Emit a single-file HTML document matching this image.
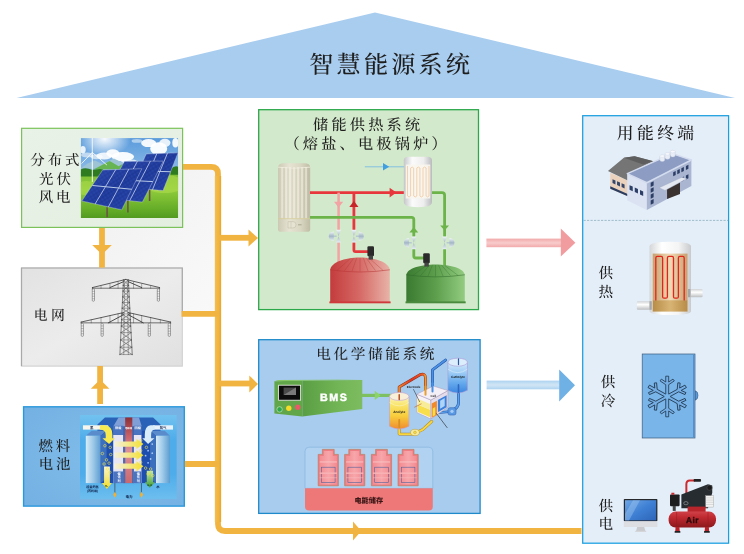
<!DOCTYPE html>
<html lang="zh-CN"><head><meta charset="utf-8"><title>智慧能源系统</title>
<style>
html,body{margin:0;padding:0;background:#fff;}
body{width:744px;height:554px;overflow:hidden;}
svg{display:block;will-change:transform;opacity:0.9999}
text{text-rendering:geometricPrecision}
.k{font-family:'Liberation Serif','Noto Serif CJK SC',serif;font-weight:500;fill:#1e1e1e}
.s{font-family:'Liberation Sans','Noto Sans CJK SC',sans-serif}
</style></head><body>
<svg width="744" height="554" viewBox="0 0 744 554">
<defs>
<linearGradient id="gGrey" x1="0" y1="0" x2="1" y2="1"><stop offset="0" stop-color="#f1f1f1"/><stop offset="1" stop-color="#f9f9f9"/></linearGradient>
<linearGradient id="gPV" x1="0" y1="0" x2="1" y2="1"><stop offset="0" stop-color="#e9f2e7"/><stop offset="1" stop-color="#e3eee0"/></linearGradient>
<linearGradient id="gGrid" x1="0" y1="0" x2="1" y2="1"><stop offset="0" stop-color="#e2e2e2"/><stop offset="0.5" stop-color="#ececec"/><stop offset="1" stop-color="#e0e0e0"/></linearGradient>
<radialGradient id="gFuel" cx="0.55" cy="0.5" r="0.75"><stop offset="0" stop-color="#80bdea"/><stop offset="1" stop-color="#74b1e3"/></radialGradient>
<linearGradient id="gSky" x1="0" y1="0" x2="0" y2="1"><stop offset="0" stop-color="#5a9bdc"/><stop offset="1" stop-color="#d4e9f6"/></linearGradient>
<linearGradient id="gGrass" x1="0" y1="0" x2="0" y2="1"><stop offset="0" stop-color="#8ccb3a"/><stop offset="1" stop-color="#4f9a1e"/></linearGradient>
<linearGradient id="gPanel" x1="0" y1="0" x2="1" y2="1"><stop offset="0" stop-color="#3656b8"/><stop offset="0.5" stop-color="#1d3a98"/><stop offset="1" stop-color="#2a4cb0"/></linearGradient>
<linearGradient id="gBeige" x1="0" y1="0" x2="1" y2="0"><stop offset="0" stop-color="#ccc9b3"/><stop offset="0.35" stop-color="#e6e3d3"/><stop offset="0.7" stop-color="#d9d6c2"/><stop offset="1" stop-color="#c0bda6"/></linearGradient>
<linearGradient id="gSteel" x1="0" y1="0" x2="1" y2="0"><stop offset="0" stop-color="#c4c6c8"/><stop offset="0.3" stop-color="#fbfbfb"/><stop offset="0.7" stop-color="#eeeeee"/><stop offset="1" stop-color="#b9bbbd"/></linearGradient>
<linearGradient id="gRedTank" x1="0" y1="0" x2="1" y2="0"><stop offset="0" stop-color="#c33c3c"/><stop offset="0.5" stop-color="#d66a66"/><stop offset="1" stop-color="#e8b3a8"/></linearGradient>
<linearGradient id="gGreenTank" x1="0" y1="0" x2="1" y2="0"><stop offset="0" stop-color="#3a7a32"/><stop offset="0.5" stop-color="#5c9e4c"/><stop offset="1" stop-color="#93cc80"/></linearGradient>
<linearGradient id="gBMSside" x1="0" y1="0" x2="1" y2="0"><stop offset="0" stop-color="#5a9e44"/><stop offset="0.6" stop-color="#72b556"/><stop offset="1" stop-color="#7dbc60"/></linearGradient>
<linearGradient id="gRedArrow" x1="0" y1="0" x2="0" y2="1"><stop offset="0" stop-color="#f2a9aa"/><stop offset="0.5" stop-color="#f8cccc"/><stop offset="1" stop-color="#f2a9aa"/></linearGradient>
<linearGradient id="gBlueArrow" x1="0" y1="0" x2="0" y2="1"><stop offset="0" stop-color="#add2ef"/><stop offset="0.5" stop-color="#d2e6f6"/><stop offset="1" stop-color="#add2ef"/></linearGradient>
<linearGradient id="gAno" x1="0" y1="0" x2="0" y2="1"><stop offset="0" stop-color="#fbf3c4"/><stop offset="0.25" stop-color="#f9e66c"/><stop offset="0.6" stop-color="#f8cc3c"/><stop offset="1" stop-color="#ef8c30"/></linearGradient>
<linearGradient id="gCat" x1="0" y1="0" x2="0" y2="1"><stop offset="0" stop-color="#d4eafb"/><stop offset="0.3" stop-color="#a4d0f6"/><stop offset="0.65" stop-color="#68acee"/><stop offset="1" stop-color="#3c86e0"/></linearGradient>
<linearGradient id="gPipeR" x1="0" y1="1" x2="1" y2="0"><stop offset="0" stop-color="#f0a030"/><stop offset="0.5" stop-color="#e84828"/><stop offset="1" stop-color="#d83030"/></linearGradient>
<linearGradient id="gTan" x1="0" y1="0" x2="1" y2="0"><stop offset="0" stop-color="#c9a070"/><stop offset="0.5" stop-color="#f0dab6"/><stop offset="1" stop-color="#c9a070"/></linearGradient>
<linearGradient id="gGold" x1="0" y1="0" x2="1" y2="0"><stop offset="0" stop-color="#b88c48"/><stop offset="0.5" stop-color="#d8b474"/><stop offset="1" stop-color="#b88c48"/></linearGradient>
<linearGradient id="gHeaterShell" x1="0" y1="0" x2="1" y2="0"><stop offset="0" stop-color="#d4d6d8"/><stop offset="0.3" stop-color="#ffffff"/><stop offset="0.7" stop-color="#f4f4f4"/><stop offset="1" stop-color="#c8cacc"/></linearGradient>
<linearGradient id="gScreen" x1="0" y1="0" x2="1" y2="1"><stop offset="0" stop-color="#6ea6e6"/><stop offset="0.5" stop-color="#3f80d4"/><stop offset="1" stop-color="#2c64b8"/></linearGradient>
<linearGradient id="gRedCyl" x1="0" y1="0" x2="0" y2="1"><stop offset="0" stop-color="#cf4248"/><stop offset="0.35" stop-color="#c02a30"/><stop offset="1" stop-color="#8a181c"/></linearGradient>
<linearGradient id="gFuelBg" x1="0" y1="0" x2="0" y2="1"><stop offset="0" stop-color="#72c2ef"/><stop offset="0.3" stop-color="#4eacea"/><stop offset="0.7" stop-color="#4eacea"/><stop offset="1" stop-color="#6cbeee"/></linearGradient>
<linearGradient id="gPlate" x1="0" y1="0" x2="1" y2="0"><stop offset="0" stop-color="#d8ecf8"/><stop offset="0.5" stop-color="#9cc8e8"/><stop offset="1" stop-color="#5c9cd0"/></linearGradient>
<linearGradient id="gYArrow" x1="0" y1="0" x2="1" y2="0"><stop offset="0" stop-color="#f4f0e0"/><stop offset="1" stop-color="#f4e030"/></linearGradient>
<linearGradient id="gYDown" x1="0" y1="0" x2="0" y2="1"><stop offset="0" stop-color="#faf6d0"/><stop offset="1" stop-color="#f0dc28"/></linearGradient>
<linearGradient id="gGDown" x1="0" y1="0" x2="0" y2="1"><stop offset="0" stop-color="#c8e8a0"/><stop offset="1" stop-color="#3c9c38"/></linearGradient>
<linearGradient id="gBatt" x1="0" y1="0" x2="1" y2="0"><stop offset="0" stop-color="#f28c92"/><stop offset="0.5" stop-color="#f7a6aa"/><stop offset="1" stop-color="#f28c92"/></linearGradient>
<clipPath id="cpPV"><rect x="0" y="0" width="97.5" height="80"/></clipPath>
<linearGradient id="gHeaterShellV" x1="0" y1="0" x2="0" y2="1"><stop offset="0" stop-color="#d0d2d4"/><stop offset="0.4" stop-color="#ffffff"/><stop offset="1" stop-color="#bcbec0"/></linearGradient>
</defs>

<polygon points="16.5,97.9 375,12.4 735,97.9" fill="#a9cdef"/>
<text class="k" x="391.2" y="73" font-size="24.2" letter-spacing="3.1" text-anchor="middle">智慧能源系统</text>
<rect x="102" y="167" width="115" height="147.4" fill="url(#gGrey)"/>
<rect x="21.6" y="128.3" width="161" height="99.1" fill="url(#gPV)" stroke="#7cc25a" stroke-width="1.2"/>
<text class="k" font-size="14.4" letter-spacing="3" text-anchor="middle"><tspan x="56.4" y="165.4">分布式</tspan><tspan x="56.4" y="183.8">光伏</tspan><tspan x="56.1" y="202">风电</tspan></text>
<g transform="translate(80.7,138.1)" clip-path="url(#cpPV)">
<radialGradient id="gSun" cx="0.5" cy="0.5" r="0.5"><stop offset="0" stop-color="#ffffff" stop-opacity="0.95"/><stop offset="0.5" stop-color="#ffffff" stop-opacity="0.5"/><stop offset="1" stop-color="#ffffff" stop-opacity="0"/></radialGradient>
<linearGradient id="gGrass2" x1="0" y1="0" x2="0" y2="1"><stop offset="0" stop-color="#7cbc34"/><stop offset="0.3" stop-color="#90cc3c"/><stop offset="0.65" stop-color="#62aa26"/><stop offset="1" stop-color="#347e16"/></linearGradient>
<rect width="97.5" height="80" fill="url(#gSky)"/>
<ellipse cx="24" cy="1" rx="26" ry="17" fill="url(#gSun)"/>
<ellipse cx="42.2" cy="18.6" rx="11.2" ry="4.7" fill="#fff" opacity="0.95"/>
<ellipse cx="32.1" cy="15.2" rx="6.5" ry="4.0" fill="#fff" opacity="0.92"/>
<ellipse cx="23.6" cy="17.9" rx="7.8" ry="3.4" fill="#fff" opacity="0.85"/>
<ellipse cx="15.8" cy="18.6" rx="6.2" ry="2.5" fill="#fff" opacity="0.60"/>
<ellipse cx="78.0" cy="10.6" rx="8.5" ry="6.5" fill="#fff" opacity="0.96"/>
<ellipse cx="67.9" cy="5.0" rx="7.5" ry="4.0" fill="#fff" opacity="0.92"/>
<ellipse cx="84.2" cy="4.7" rx="5.6" ry="4.0" fill="#fff" opacity="0.85"/>
<ellipse cx="94.7" cy="4.7" rx="3.1" ry="4.7" fill="#fff" opacity="0.92"/>
<ellipse cx="2.2" cy="11.6" rx="2.8" ry="3.7" fill="#fff" opacity="0.85"/>
<ellipse cx="6.5" cy="16.8" rx="6.2" ry="2.5" fill="#fff" opacity="0.55"/>
<ellipse cx="56.2" cy="2.8" rx="5.3" ry="1.9" fill="#fff" opacity="0.50"/>
<ellipse cx="48.4" cy="23.3" rx="7.8" ry="2.2" fill="#fff" opacity="0.70"/>
<polygon points="0.00,30.28 6.52,25.62 14.29,22.52 22.05,26.09 33.23,20.50 43.79,25.62 54.66,30.75" fill="#9cc4d4"/>
<polygon points="12.73,31.37 29.04,22.98 37.89,28.26 43.79,24.84 54.66,31.37" fill="#66b452"/>
<rect x="0" y="33.5" width="97.5" height="60" fill="url(#gGrass2)"/>
<ellipse cx="84" cy="46" rx="20" ry="9" fill="#b4e050" opacity="0.5"/>
<ellipse cx="6" cy="50" rx="12" ry="7" fill="#b4e050" opacity="0.45"/>
<path d="M0,31.4 Q4,29.2 8,30.7 T17,31.1 T24,32.9 V38.5 H0Z" fill="#2f7c20"/>
<path d="M89.8,31.4 Q93.8,26.7 97.5,28.6 V36.6 H89.8Z" fill="#2f7c20"/>
<line x1="11.6" y1="14.3" x2="11.6" y2="43.8" stroke="#fff" stroke-width="1" opacity="0.95"/>
<line x1="11.6" y1="14.3" x2="11.6" y2="0.3" stroke="#fff" stroke-width="0.9" stroke-linecap="round" opacity="0.9"/>
<line x1="11.6" y1="14.3" x2="1.1" y2="25.2" stroke="#fff" stroke-width="0.9" stroke-linecap="round" opacity="0.9"/>
<line x1="11.6" y1="14.3" x2="25.9" y2="26.7" stroke="#fff" stroke-width="0.9" stroke-linecap="round" opacity="0.9"/>
<line x1="68.9" y1="49.7" x2="68.9" y2="62.9" stroke="#6a5648" stroke-width="1.6"/>
<line x1="47.2" y1="60.6" x2="47.2" y2="74.5" stroke="#6a5648" stroke-width="1.6"/>
<line x1="26.4" y1="69.1" x2="26.4" y2="79.2" stroke="#6a5648" stroke-width="1.6"/>
<pattern id="pCell" width="1.3" height="1.3" patternUnits="userSpaceOnUse" patternTransform="rotate(12)"><rect width="1.3" height="1.3" fill="#243ea2"/><rect width="0.45" height="1.3" fill="#3a58bc"/><rect width="1.3" height="0.4" fill="#1a2e88"/></pattern>
<polygon points="65.53,15.84 97.36,14.75 82.30,52.48 50.78,49.69" fill="url(#pCell)"/>
<polygon points="65.53,15.84 97.36,14.75 82.30,52.48 50.78,49.69" fill="url(#gPanel)" opacity="0.55" stroke="#d4def2" stroke-width="0.7"/>
<line x1="76.14" y1="15.48" x2="61.28" y2="50.62" stroke="#dfe6f6" stroke-width="0.7"/>
<line x1="86.75" y1="15.11" x2="71.79" y2="51.55" stroke="#dfe6f6" stroke-width="0.7"/>
<line x1="58.15" y1="32.76" x2="89.83" y2="33.62" stroke="#b8cae8" stroke-width="1"/>
<polygon points="43.79,23.29 82.61,22.98 61.65,63.98 23.60,59.78" fill="url(#pCell)"/>
<polygon points="43.79,23.29 82.61,22.98 61.65,63.98 23.60,59.78" fill="url(#gPanel)" opacity="0.55" stroke="#d4def2" stroke-width="0.7"/>
<line x1="56.73" y1="23.19" x2="36.28" y2="61.18" stroke="#dfe6f6" stroke-width="0.7"/>
<line x1="69.67" y1="23.08" x2="48.96" y2="62.58" stroke="#dfe6f6" stroke-width="0.7"/>
<line x1="33.70" y1="41.54" x2="72.13" y2="43.48" stroke="#b8cae8" stroke-width="1"/>
<polygon points="22.05,31.83 61.18,30.59 40.99,71.74 1.09,62.89" fill="url(#pCell)"/>
<polygon points="22.05,31.83 61.18,30.59 40.99,71.74 1.09,62.89" fill="url(#gPanel)" opacity="0.55" stroke="#d4def2" stroke-width="0.7"/>
<line x1="35.09" y1="31.42" x2="14.39" y2="65.84" stroke="#dfe6f6" stroke-width="0.7"/>
<line x1="48.14" y1="31.00" x2="27.69" y2="68.79" stroke="#dfe6f6" stroke-width="0.7"/>
<line x1="11.57" y1="47.36" x2="51.09" y2="51.16" stroke="#b8cae8" stroke-width="1"/>
</g>
<rect x="21.5" y="268" width="160.8" height="98.1" fill="url(#gGrid)" stroke="#d2d2d2" stroke-width="1.2"/><path d="M21.5,366.1 V268 H182.3 V311.5" fill="none" stroke="#a9a9a9" stroke-width="1.2"/>
<text class="k" font-size="13.8" letter-spacing="3.4" x="33.7" y="320.2">电网</text>
<g fill="none" stroke="#3a3a3a" stroke-width="0.6" stroke-linecap="round">
<line x1="123.46" y1="279.76" x2="119.88" y2="354.55"/>
<line x1="128.33" y1="279.76" x2="132.24" y2="354.55"/>
<line x1="124.43" y1="279.76" x2="123.78" y2="354.55" stroke-width="0.4"/>
<line x1="127.36" y1="279.76" x2="128.33" y2="354.55" stroke-width="0.4"/>
<line x1="123.46" y1="279.76" x2="128.63" y2="285.45" stroke-width="0.45"/>
<line x1="128.33" y1="279.76" x2="123.18" y2="285.45" stroke-width="0.45"/>
<line x1="123.18" y1="285.45" x2="128.63" y2="285.45" stroke-width="0.4"/>
<line x1="123.18" y1="285.45" x2="128.93" y2="291.14" stroke-width="0.45"/>
<line x1="128.63" y1="285.45" x2="122.91" y2="291.14" stroke-width="0.45"/>
<line x1="122.91" y1="291.14" x2="128.93" y2="291.14" stroke-width="0.4"/>
<line x1="122.91" y1="291.14" x2="129.22" y2="296.83" stroke-width="0.45"/>
<line x1="128.93" y1="291.14" x2="122.64" y2="296.83" stroke-width="0.45"/>
<line x1="122.64" y1="296.83" x2="129.22" y2="296.83" stroke-width="0.4"/>
<line x1="122.64" y1="296.83" x2="129.52" y2="302.52" stroke-width="0.45"/>
<line x1="129.22" y1="296.83" x2="122.37" y2="302.52" stroke-width="0.45"/>
<line x1="122.37" y1="302.52" x2="129.52" y2="302.52" stroke-width="0.4"/>
<line x1="122.37" y1="302.52" x2="129.82" y2="308.21" stroke-width="0.45"/>
<line x1="129.52" y1="302.52" x2="122.09" y2="308.21" stroke-width="0.45"/>
<line x1="122.09" y1="308.21" x2="129.82" y2="308.21" stroke-width="0.4"/>
<line x1="122.09" y1="308.21" x2="130.11" y2="313.90" stroke-width="0.45"/>
<line x1="129.82" y1="308.21" x2="121.82" y2="313.90" stroke-width="0.45"/>
<line x1="121.82" y1="313.90" x2="130.11" y2="313.90" stroke-width="0.4"/>
<line x1="121.82" y1="313.90" x2="130.41" y2="319.59" stroke-width="0.45"/>
<line x1="130.11" y1="313.90" x2="121.55" y2="319.59" stroke-width="0.45"/>
<line x1="121.55" y1="319.59" x2="130.41" y2="319.59" stroke-width="0.4"/>
<line x1="121.55" y1="319.59" x2="130.75" y2="326.10" stroke-width="0.45"/>
<line x1="130.41" y1="319.59" x2="121.24" y2="326.10" stroke-width="0.45"/>
<line x1="121.24" y1="326.10" x2="130.75" y2="326.10" stroke-width="0.4"/>
<line x1="121.24" y1="326.10" x2="131.09" y2="332.60" stroke-width="0.45"/>
<line x1="130.75" y1="326.10" x2="120.93" y2="332.60" stroke-width="0.45"/>
<line x1="120.93" y1="332.60" x2="131.09" y2="332.60" stroke-width="0.4"/>
<line x1="120.93" y1="332.60" x2="131.47" y2="339.92" stroke-width="0.45"/>
<line x1="131.09" y1="332.60" x2="120.58" y2="339.92" stroke-width="0.45"/>
<line x1="120.58" y1="339.92" x2="131.47" y2="339.92" stroke-width="0.4"/>
<line x1="120.58" y1="339.92" x2="131.85" y2="347.24" stroke-width="0.45"/>
<line x1="131.47" y1="339.92" x2="120.23" y2="347.24" stroke-width="0.45"/>
<line x1="120.23" y1="347.24" x2="131.85" y2="347.24" stroke-width="0.4"/>
<line x1="120.23" y1="347.24" x2="132.24" y2="354.55" stroke-width="0.45"/>
<line x1="131.85" y1="347.24" x2="119.88" y2="354.55" stroke-width="0.45"/>
<line x1="119.88" y1="354.55" x2="132.24" y2="354.55" stroke-width="0.4"/>
<line x1="92.40" y1="288.21" x2="159.55" y2="288.21" stroke-width="0.7"/>
<line x1="125.73" y1="279.43" x2="92.40" y2="287.56" stroke-width="0.8"/>
<line x1="125.73" y1="279.43" x2="159.55" y2="287.56" stroke-width="0.8"/>
<line x1="92.40" y1="287.56" x2="92.40" y2="289.19"/>
<line x1="159.55" y1="287.56" x2="159.55" y2="289.19"/>
<line x1="109.96" y1="287.56" x2="123.46" y2="281.71" stroke-width="0.9"/>
<line x1="141.67" y1="287.56" x2="128.33" y2="281.71" stroke-width="0.9"/>
<line x1="101.02" y1="286.26" x2="101.02" y2="288.21" stroke-width="0.4"/>
<line x1="109.96" y1="283.98" x2="109.96" y2="288.21" stroke-width="0.4"/>
<line x1="118.09" y1="282.03" x2="118.09" y2="288.21" stroke-width="0.4"/>
<line x1="150.61" y1="286.26" x2="150.61" y2="288.21" stroke-width="0.4"/>
<line x1="141.67" y1="283.98" x2="141.67" y2="288.21" stroke-width="0.4"/>
<line x1="133.54" y1="282.03" x2="133.54" y2="288.21" stroke-width="0.4"/>
<line x1="81.18" y1="322.85" x2="170.61" y2="322.85" stroke-width="0.7"/>
<line x1="123.46" y1="312.60" x2="81.18" y2="322.03" stroke-width="0.8"/>
<line x1="128.33" y1="312.60" x2="170.61" y2="322.03" stroke-width="0.8"/>
<line x1="81.18" y1="322.03" x2="81.18" y2="323.66"/>
<line x1="170.61" y1="322.03" x2="170.61" y2="323.66"/>
<line x1="108.33" y1="322.85" x2="123.46" y2="314.72" stroke-width="0.9"/>
<line x1="143.29" y1="322.85" x2="128.33" y2="314.72" stroke-width="0.9"/>
<line x1="91.26" y1="319.78" x2="91.26" y2="322.85" stroke-width="0.4"/>
<line x1="101.02" y1="317.61" x2="101.02" y2="322.85" stroke-width="0.4"/>
<line x1="109.96" y1="315.61" x2="109.96" y2="322.85" stroke-width="0.4"/>
<line x1="118.09" y1="313.80" x2="118.09" y2="322.85" stroke-width="0.4"/>
<line x1="160.37" y1="319.75" x2="160.37" y2="322.85" stroke-width="0.4"/>
<line x1="150.61" y1="317.57" x2="150.61" y2="322.85" stroke-width="0.4"/>
<line x1="141.67" y1="315.58" x2="141.67" y2="322.85" stroke-width="0.4"/>
<line x1="133.54" y1="313.76" x2="133.54" y2="322.85" stroke-width="0.4"/>
</g>
<g fill="#f4f4f4" stroke="#3a3a3a" stroke-width="0.45">
<rect x="92.27" y="288.86" width="2.2" height="12.36" rx="0.9"/>
<line x1="92.27" y1="291.33" x2="94.47" y2="291.33" stroke-width="0.3"/>
<line x1="92.27" y1="293.80" x2="94.47" y2="293.80" stroke-width="0.3"/>
<line x1="92.27" y1="296.28" x2="94.47" y2="296.28" stroke-width="0.3"/>
<line x1="92.27" y1="298.75" x2="94.47" y2="298.75" stroke-width="0.3"/>
<rect x="157.31" y="288.86" width="2.2" height="12.36" rx="0.9"/>
<line x1="157.31" y1="291.33" x2="159.51" y2="291.33" stroke-width="0.3"/>
<line x1="157.31" y1="293.80" x2="159.51" y2="293.80" stroke-width="0.3"/>
<line x1="157.31" y1="296.28" x2="159.51" y2="296.28" stroke-width="0.3"/>
<line x1="157.31" y1="298.75" x2="159.51" y2="298.75" stroke-width="0.3"/>
<rect x="81.22" y="323.33" width="2.2" height="13.01" rx="0.9"/>
<line x1="81.22" y1="325.93" x2="83.42" y2="325.93" stroke-width="0.3"/>
<line x1="81.22" y1="328.54" x2="83.42" y2="328.54" stroke-width="0.3"/>
<line x1="81.22" y1="331.14" x2="83.42" y2="331.14" stroke-width="0.3"/>
<line x1="81.22" y1="333.74" x2="83.42" y2="333.74" stroke-width="0.3"/>
<rect x="101.05" y="323.33" width="2.2" height="13.01" rx="0.9"/>
<line x1="101.05" y1="325.93" x2="103.25" y2="325.93" stroke-width="0.3"/>
<line x1="101.05" y1="328.54" x2="103.25" y2="328.54" stroke-width="0.3"/>
<line x1="101.05" y1="331.14" x2="103.25" y2="331.14" stroke-width="0.3"/>
<line x1="101.05" y1="333.74" x2="103.25" y2="333.74" stroke-width="0.3"/>
<rect x="148.21" y="323.33" width="2.2" height="13.01" rx="0.9"/>
<line x1="148.21" y1="325.93" x2="150.41" y2="325.93" stroke-width="0.3"/>
<line x1="148.21" y1="328.54" x2="150.41" y2="328.54" stroke-width="0.3"/>
<line x1="148.21" y1="331.14" x2="150.41" y2="331.14" stroke-width="0.3"/>
<line x1="148.21" y1="333.74" x2="150.41" y2="333.74" stroke-width="0.3"/>
<rect x="168.21" y="323.33" width="2.2" height="13.01" rx="0.9"/>
<line x1="168.21" y1="325.93" x2="170.41" y2="325.93" stroke-width="0.3"/>
<line x1="168.21" y1="328.54" x2="170.41" y2="328.54" stroke-width="0.3"/>
<line x1="168.21" y1="331.14" x2="170.41" y2="331.14" stroke-width="0.3"/>
<line x1="168.21" y1="333.74" x2="170.41" y2="333.74" stroke-width="0.3"/>
</g>
<rect x="23.6" y="406.8" width="160.7" height="99.3" fill="url(#gFuel)" stroke="#2a98dc" stroke-width="1.4"/>
<text class="k" font-size="14.4" letter-spacing="2.9"><tspan x="38.4" y="450.9">燃料</tspan><tspan x="38.8" y="469">电池</tspan></text>
<rect x="79.98" y="414.98" width="96.68" height="83.89" fill="url(#gFuelBg)"/>
<polygon points="97.43,424.62 104.90,417.48 153.07,417.48 160.55,424.62 160.55,431.59 97.43,431.59" fill="#2a62b8"/>
<rect x="99.92" y="430.76" width="56.48" height="52.33" fill="#1f4fae"/>
<polygon points="85.80,435.75 91.61,430.76 106.56,430.76 100.75,435.75" fill="#5a8ccc"/>
<rect x="85.80" y="435.75" width="14.95" height="47.34" fill="url(#gPlate)"/>
<polygon points="100.75,435.75 106.56,430.76 106.56,478.11 100.75,483.09" fill="#3c70bc"/>
<polygon points="155.90,435.75 150.08,430.76 164.70,430.76 170.02,435.75" fill="#5a8ccc"/>
<rect x="155.90" y="435.75" width="14.12" height="47.34" fill="url(#gPlate)"/>
<polygon points="155.90,435.75 150.08,430.76 150.08,478.11 155.90,483.09" fill="#3c70bc"/>
<polygon points="113.21,426.61 118.52,417.48 138.95,417.48 141.78,426.61" fill="#7f9fd6"/>
<polygon points="113.21,434.92 113.21,426.61 141.78,426.61 141.78,434.92" fill="#3a66b4"/>
<rect x="113.21" y="434.92" width="9.97" height="48.17" fill="#e8e6f2"/>
<rect x="123.17" y="434.92" width="1.66" height="48.17" fill="#5870b0"/>
<linearGradient id="gMem" x1="0" y1="0" x2="0" y2="1"><stop offset="0" stop-color="#8c3038"/><stop offset="0.3" stop-color="#c8646c"/><stop offset="0.5" stop-color="#dc9298"/><stop offset="1" stop-color="#c86870"/></linearGradient>
<rect x="125.17" y="417.48" width="7.14" height="65.61" fill="url(#gMem)"/>
<rect x="132.31" y="434.92" width="1.66" height="48.17" fill="#5870b0"/>
<rect x="133.97" y="434.92" width="7.48" height="48.17" fill="#e8e6f2"/>
<rect x="113.21" y="471.46" width="9.97" height="11.63" fill="#4a74c0"/>
<rect x="133.97" y="471.46" width="7.48" height="11.63" fill="#4a74c0"/>
<rect x="113.21" y="425.78" width="9.97" height="9.14" fill="#4a74c0"/>
<rect x="133.97" y="425.78" width="7.48" height="9.14" fill="#4a74c0"/>
<rect x="82.97" y="425.28" width="25.25" height="4.32" fill="#f6f6ee"/>
<rect x="153.07" y="425.28" width="19.93" height="4.32" fill="#e8f2fa"/>
<path d="M99.92,425.28 L104.90,425.28 Q112.38,425.78 112.38,434.92 L112.38,438.24 L114.87,438.24 L109.05,444.05 L102.41,438.24 L105.73,438.24 L105.73,434.92 Q105.73,429.93 99.92,429.60 Z" fill="#f6ea50"/>
<path d="M154.73,425.28 L150.58,425.28 Q144.77,425.78 144.77,434.92 L144.77,438.24 L142.28,438.24 L148.09,444.05 L154.40,438.24 L151.08,438.24 L151.08,434.92 Q151.08,429.93 154.73,429.60 Z" fill="#d8ecfa"/>
<polygon points="114.04,441.40 136.46,441.40 136.46,439.07 143.44,444.05 136.46,449.04 136.46,446.71 114.04,446.71" fill="url(#gYArrow)"/>
<polygon points="114.04,452.52 136.46,452.52 136.46,450.20 143.44,455.18 136.46,460.17 136.46,457.84 114.04,457.84" fill="url(#gYArrow)"/>
<polygon points="114.04,463.49 136.46,463.49 136.46,461.16 143.44,466.15 136.46,471.13 136.46,468.80 114.04,468.80" fill="url(#gYArrow)"/>
<polygon points="104.07,466.48 109.88,466.48 109.88,483.09 111.88,483.09 106.89,488.90 101.91,483.09 104.07,483.09" fill="url(#gYDown)"/>
<polygon points="146.76,470.63 153.07,470.63 153.07,482.26 155.07,482.26 149.75,487.74 144.77,482.26 146.76,482.26" fill="url(#gGDown)"/>
<circle cx="104.90" cy="445.71" r="1.25" fill="none" stroke="#f4e64a" stroke-width="0.6"/>
<circle cx="110.22" cy="447.38" r="1.25" fill="none" stroke="#f4e64a" stroke-width="0.6"/>
<circle cx="102.41" cy="453.52" r="1.25" fill="none" stroke="#f4e64a" stroke-width="0.6"/>
<circle cx="110.71" cy="454.52" r="1.25" fill="none" stroke="#f4e64a" stroke-width="0.6"/>
<circle cx="106.56" cy="459.83" r="1.25" fill="none" stroke="#f4e64a" stroke-width="0.6"/>
<circle cx="104.07" cy="463.99" r="1.25" fill="none" stroke="#f4e64a" stroke-width="0.6"/>
<circle cx="109.05" cy="463.16" r="1.25" fill="none" stroke="#f4e64a" stroke-width="0.6"/>
<circle cx="107.39" cy="468.97" r="1.25" fill="none" stroke="#f4e64a" stroke-width="0.6"/>
<circle cx="109.88" cy="472.29" r="1.25" fill="none" stroke="#f4e64a" stroke-width="0.6"/>
<circle cx="140.61" cy="440.73" r="1.25" fill="none" stroke="#f4e64a" stroke-width="0.6"/>
<circle cx="146.43" cy="447.38" r="1.25" fill="none" stroke="#f4e64a" stroke-width="0.6"/>
<circle cx="140.61" cy="450.70" r="1.25" fill="none" stroke="#f4e64a" stroke-width="0.6"/>
<circle cx="145.60" cy="468.14" r="1.25" fill="none" stroke="#f4e64a" stroke-width="0.6"/>
<circle cx="150.58" cy="468.97" r="1.25" fill="none" stroke="#f4e64a" stroke-width="0.6"/>
<circle cx="148.09" cy="473.95" r="1.25" fill="none" stroke="#f4e64a" stroke-width="0.6"/>
<circle cx="152.74" cy="475.61" r="1.25" fill="none" stroke="#f4e64a" stroke-width="0.6"/>
<circle cx="140.61" cy="462.33" r="1.25" fill="none" stroke="#f4e64a" stroke-width="0.6"/>
<circle cx="148.09" cy="450.70" r="0.9" fill="#a8c4ec"/>
<circle cx="152.24" cy="453.19" r="0.9" fill="#a8c4ec"/>
<circle cx="145.60" cy="455.68" r="0.9" fill="#a8c4ec"/>
<circle cx="150.58" cy="459.00" r="0.9" fill="#a8c4ec"/>
<circle cx="148.09" cy="462.82" r="0.9" fill="#a8c4ec"/>
<circle cx="152.24" cy="444.05" r="0.9" fill="#a8c4ec"/>
<line x1="114.87" y1="483.09" x2="114.87" y2="495.55" stroke="#303030" stroke-width="0.6"/>
<polygon points="113.21,494.72 114.87,491.73 116.53,494.72 114.87,497.71" fill="#f4b030"/>
<line x1="141.45" y1="483.09" x2="141.45" y2="495.55" stroke="#303030" stroke-width="0.6"/>
<polygon points="139.78,494.72 141.45,491.73 143.11,494.72 141.45,497.71" fill="#f4b030"/>
<text class="s" x="91.61" y="428.77" font-size="3.4" font-weight="700" fill="#10204a" text-anchor="middle">氢</text>
<text class="s" x="163.04" y="428.77" font-size="3.4" font-weight="700" fill="#10204a" text-anchor="middle">氧气</text>
<text class="s" x="118.19" y="428.77" font-size="3.2" font-weight="700" fill="#fff" text-anchor="middle">阳极</text>
<text class="s" x="137.79" y="428.77" font-size="3.2" font-weight="700" fill="#fff" text-anchor="middle">阴极</text>
<text class="s" x="128.49" y="428.77" font-size="2.4" font-weight="700" fill="#fff" text-anchor="middle">电解质</text>
<text class="s" x="92.44" y="488.41" font-size="3.2" font-weight="700" fill="#10204a" text-anchor="middle">过量的氢</text>
<text class="s" x="92.44" y="492.23" font-size="3.0" font-weight="700" fill="#10204a" text-anchor="middle">(再利用)</text>
<text class="s" x="128.99" y="497.54" font-size="3.6" font-weight="700" fill="#10204a" text-anchor="middle">电力</text>
<text class="s" x="158.06" y="488.07" font-size="3.4" font-weight="700" fill="#10204a" text-anchor="middle">水</text>
<text class="s" x="106.56" y="487.24" font-size="3.0" font-weight="700" fill="#304010" text-anchor="middle">H₂</text>
<text class="s" x="149.75" y="486.08" font-size="2.6" font-weight="700" fill="#103010" text-anchor="middle">H₂O</text>
<text class="s" font-size="3.2" font-weight="700" fill="#fff" text-anchor="middle" style="writing-mode:vertical-rl" x="118.52" y="477.28">催化剂</text>
<text class="s" font-size="3.2" font-weight="700" fill="#fff" text-anchor="middle" style="writing-mode:vertical-rl" x="137.79" y="477.28">催化剂</text>
<g fill="none" stroke="#F1B441" stroke-width="5.8" stroke-linejoin="round">
<path d="M183,166.8 H211 Q218,166.8 218,173.8 V524 Q218,531 225,531 H581.5"/>
<linearGradient id="gOrV" gradientUnits="userSpaceOnUse" x1="214.8" y1="0" x2="221.2" y2="0"><stop offset="0" stop-color="#f4be50"/><stop offset="0.6" stop-color="#f0b440"/><stop offset="1" stop-color="#e3a631"/></linearGradient>
<path d="M218,176 V522" stroke-width="6.3" stroke="url(#gOrV)"/>
<path d="M181.5,313.9 H218"/>
<path d="M184.8,464 H218"/>
<path d="M218,237.8 H250"/>
<path d="M218,383.5 H250"/>
<path d="M102,228 V267.6"/>
<path d="M100.1,366 V404"/>
</g>
<g fill="#F1B441">
<polygon points="248.5,229.4 258,238 248.5,246.6"/>
<polygon points="249.3,375.6 258,384 249.3,392.4"/>
<polygon points="353,521.4 361.2,531 353,540.4"/>
<polygon points="92.2,244.9 111.8,244.9 102,254.4"/>
<polygon points="90.8,388.7 109.4,388.7 100.1,379.4"/>
</g>
<rect x="258.7" y="109.7" width="219.8" height="199.9" fill="#d3e9cb" stroke="#2ba84a" stroke-width="1.3"/>
<text class="k" font-size="15.2" letter-spacing="3.2" text-anchor="middle"><tspan x="368.2" y="130">储能供热系统</tspan><tspan x="367.2" y="149.2">（熔盐、电极锅炉）</tspan></text>
<path d="M278,167.4 Q278,163.3 284,163.2 H304.2 Q310.2,163.3 310.2,167.4 V229.4 Q310.2,231.8 307.2,231.8 H281 Q278,231.8 278,229.4Z" fill="url(#gBeige)"/>
<rect x="281.20" y="167" width="1.9" height="51.4" fill="#f2f0e4" opacity="0.55"/>
<line x1="284.10" y1="167" x2="284.10" y2="218.4" stroke="#b4b098" stroke-width="0.45" opacity="0.6"/>
<rect x="285.20" y="167" width="1.9" height="51.4" fill="#f2f0e4" opacity="0.55"/>
<line x1="288.10" y1="167" x2="288.10" y2="218.4" stroke="#b4b098" stroke-width="0.45" opacity="0.6"/>
<rect x="289.20" y="167" width="1.9" height="51.4" fill="#f2f0e4" opacity="0.55"/>
<line x1="292.10" y1="167" x2="292.10" y2="218.4" stroke="#b4b098" stroke-width="0.45" opacity="0.6"/>
<rect x="293.20" y="167" width="1.9" height="51.4" fill="#f2f0e4" opacity="0.55"/>
<line x1="296.10" y1="167" x2="296.10" y2="218.4" stroke="#b4b098" stroke-width="0.45" opacity="0.6"/>
<rect x="297.20" y="167" width="1.9" height="51.4" fill="#f2f0e4" opacity="0.55"/>
<line x1="300.10" y1="167" x2="300.10" y2="218.4" stroke="#b4b098" stroke-width="0.45" opacity="0.6"/>
<rect x="301.20" y="167" width="1.9" height="51.4" fill="#f2f0e4" opacity="0.55"/>
<line x1="304.10" y1="167" x2="304.10" y2="218.4" stroke="#b4b098" stroke-width="0.45" opacity="0.6"/>
<rect x="305.20" y="167" width="1.9" height="51.4" fill="#f2f0e4" opacity="0.55"/>
<line x1="308.10" y1="167" x2="308.10" y2="218.4" stroke="#b4b098" stroke-width="0.45" opacity="0.6"/>
<path d="M278,167.2 Q294,169.2 310.2,167.2" fill="none" stroke="#f1eee0" stroke-width="0.8"/>
<line x1="278" y1="218.7" x2="310.2" y2="218.7" stroke="#d6cd98" stroke-width="0.8"/>
<path d="M288,221.6 h5 q3,0 3,3.2 q0,3.2 -3,3.2 h-5Z" fill="#e6e3d3" stroke="#bcb8a2" stroke-width="0.5"/>
<line x1="291" y1="221.6" x2="291" y2="228" stroke="#bcb8a2" stroke-width="0.4"/>
<line x1="298" y1="224.8" x2="301.6" y2="224.8" stroke="#8a876f" stroke-width="0.6"/>
<g fill="none" stroke-width="2.8" stroke-linejoin="round">
<path d="M310,192.6 H392" stroke="#e8373c"/>
<path d="M392,192.6 H404" stroke="#e8373c"/>
<path d="M338.6,192.6 V263" stroke="#f2a3a3" stroke-width="2.5"/>
<path d="M353.9,192.6 V250 Q353.9,251.6 355.5,251.6 H368" stroke="#e8373c"/>
<path d="M310,217.3 H411.5 Q413.8,217.3 413.8,219.6 V256 Q413.8,258 415.8,258 H424" stroke="#6cb44a"/>
<path d="M432,192.6 H442 Q444.6,192.6 444.6,195.2 V266" stroke="#6cb44a"/>
</g>
<polygon points="389.6,187.8 396.4,192.6 389.6,197.4" fill="#e8373c"/>
<polygon points="349.3,207 353.9,201 358.5,207" fill="#c8252b"/>
<polygon points="334,201.8 343.2,201.8 338.6,207.4" fill="#f2a3a3"/>
<polygon points="409.4,232.4 413.8,227 418.2,232.4" fill="#6cb44a"/>
<polygon points="440.2,225.4 449,225.4 444.6,230.6" fill="#6cb44a"/>
<line x1="364.8" y1="166.8" x2="404" y2="166.8" stroke="#6db6e6" stroke-width="0.8"/>
<polygon points="383,163 389.2,166.8 383,170.6" fill="#3f9fe0"/>
<path d="M403.8,160.2 Q403.8,156.9 408.5,156.8 H427.3 Q432,156.9 432,160.2 V202 Q432,207.2 418,207.2 Q403.8,207.2 403.8,202Z" fill="url(#gSteel)"/>
<rect x="405.8" y="164.5" width="24.4" height="34" fill="#faf6f0" opacity="0.9"/>
<path d="M407.5,166 V196 Q409.1,198 410.6,196 V168 Q412.1,166 413.7,168 V196 Q415.2,198 416.8,196 V168 Q418.4,166 419.9,168 V196 Q421.4,198 423.0,196 V168 Q424.6,166 426.1,168 V196 Q427.6,198 429.0,196 V166" fill="none" stroke="#f2cca6" stroke-width="0.9"/>
<linearGradient id="gValve" x1="0" y1="0" x2="0" y2="1"><stop offset="0" stop-color="#f0f5f9"/><stop offset="0.5" stop-color="#a3b6c6"/><stop offset="1" stop-color="#e8eff5"/></linearGradient>
<rect x="333.20" y="235.55" width="5.4" height="1.3" fill="#b4c3d0"/>
<path d="M333.80,236.20 v-4.7 q-5.00,0.4 -5.00,4.7 q0,4.3 5.00,4.7Z" fill="url(#gValve)"/>
<rect x="336.60" y="230.20" width="4" height="12" fill="#d3e9cb"/>
<path d="M338.60,236.20 l-2.4,-6.4 h4.8Z M338.60,236.20 l-2.4,6.4 h4.8Z" fill="url(#gValve)"/>
<rect x="353.90" y="235.55" width="5.4" height="1.3" fill="#b4c3d0"/>
<path d="M358.70,236.20 v-4.7 q5.00,0.4 5.00,4.7 q0,4.3 -5.00,4.7Z" fill="url(#gValve)"/>
<rect x="351.90" y="230.20" width="4" height="12" fill="#d3e9cb"/>
<path d="M353.90,236.20 l-2.4,-6.4 h4.8Z M353.90,236.20 l-2.4,6.4 h4.8Z" fill="url(#gValve)"/>
<rect x="408.40" y="242.15" width="5.4" height="1.3" fill="#b4c3d0"/>
<path d="M409.00,242.80 v-4.7 q-5.00,0.4 -5.00,4.7 q0,4.3 5.00,4.7Z" fill="url(#gValve)"/>
<rect x="411.80" y="236.80" width="4" height="12" fill="#d3e9cb"/>
<path d="M413.80,242.80 l-2.4,-6.4 h4.8Z M413.80,242.80 l-2.4,6.4 h4.8Z" fill="url(#gValve)"/>
<rect x="444.60" y="242.15" width="5.4" height="1.3" fill="#b4c3d0"/>
<path d="M449.40,242.80 v-4.7 q5.00,0.4 5.00,4.7 q0,4.3 -5.00,4.7Z" fill="url(#gValve)"/>
<rect x="442.60" y="236.80" width="4" height="12" fill="#d3e9cb"/>
<path d="M444.60,242.80 l-2.4,-6.4 h4.8Z M444.60,242.80 l-2.4,6.4 h4.8Z" fill="url(#gValve)"/>
<path d="M330.2,269.8 C331,262.5 344,257.4 360,257.4 C376,257.4 389,262.5 389.8,269.8 V302.6 H330.2Z" fill="url(#gRedTank)"/>
<path d="M330.2,269.8 Q360,274.2 389.8,269.8" fill="none" stroke="#b83434" stroke-width="0.7" opacity="0.75"/>
<line x1="350.3" y1="258.6" x2="337.0" y2="270.4" stroke="#b03030" stroke-width="0.5" opacity="0.65"/>
<line x1="353.5" y1="258.4" x2="344.5" y2="270.7" stroke="#b03030" stroke-width="0.5" opacity="0.65"/>
<line x1="356.6" y1="258.2" x2="352.0" y2="271.0" stroke="#b03030" stroke-width="0.5" opacity="0.65"/>
<line x1="360.0" y1="258.0" x2="360.0" y2="271.4" stroke="#b03030" stroke-width="0.5" opacity="0.65"/>
<line x1="363.4" y1="258.2" x2="368.0" y2="271.0" stroke="#b03030" stroke-width="0.5" opacity="0.65"/>
<line x1="366.5" y1="258.4" x2="375.5" y2="270.7" stroke="#b03030" stroke-width="0.5" opacity="0.65"/>
<line x1="369.7" y1="258.6" x2="383.0" y2="270.4" stroke="#b03030" stroke-width="0.5" opacity="0.65"/>
<rect x="329.4" y="301.4" width="61.2" height="1.9" fill="#cf3a3c"/>
<path d="M406.3,274.8 C407,268.5 420,264.4 435.5,264.4 C451,264.4 464,268.5 464.8,274.8 V302.6 H406.3Z" fill="url(#gGreenTank)"/>
<path d="M406.3,274.8 Q435.5,279 464.8,274.8" fill="none" stroke="#2f6a2a" stroke-width="0.7" opacity="0.75"/>
<line x1="426.1" y1="265.6" x2="413.0" y2="275.4" stroke="#2f6a2a" stroke-width="0.5" opacity="0.65"/>
<line x1="429.2" y1="265.4" x2="420.5" y2="275.7" stroke="#2f6a2a" stroke-width="0.5" opacity="0.65"/>
<line x1="432.4" y1="265.2" x2="428.0" y2="276.1" stroke="#2f6a2a" stroke-width="0.5" opacity="0.65"/>
<line x1="435.5" y1="265.0" x2="435.5" y2="276.4" stroke="#2f6a2a" stroke-width="0.5" opacity="0.65"/>
<line x1="438.6" y1="265.2" x2="443.0" y2="276.1" stroke="#2f6a2a" stroke-width="0.5" opacity="0.65"/>
<line x1="441.8" y1="265.4" x2="450.5" y2="275.7" stroke="#2f6a2a" stroke-width="0.5" opacity="0.65"/>
<line x1="444.9" y1="265.6" x2="458.0" y2="275.4" stroke="#2f6a2a" stroke-width="0.5" opacity="0.65"/>
<rect x="405.5" y="301.4" width="60.2" height="1.9" fill="#4a8a3e"/>
<rect x="367.4" y="246.2" width="6.6" height="10" rx="1.2" fill="#2a2a2a"/><rect x="368.6" y="255.6" width="4.4" height="4" fill="#444"/>
<rect x="423.2" y="253.2" width="6.6" height="10" rx="1.2" fill="#2a2a2a"/><rect x="424.4" y="262.6" width="4.4" height="4" fill="#444"/>
<rect x="258.7" y="339.7" width="221.4" height="173.7" fill="#a8ccee" stroke="#1f8aca" stroke-width="1.3"/>
<text class="k" font-size="14.7" letter-spacing="2.55" x="316.3" y="359.1">电化学储能系统</text>
<polygon points="302.3,380.4 362.3,380 362.3,409 302.3,416.4" fill="url(#gBMSside)"/>
<polygon points="274.4,381.2 302.3,380.4 302.3,416.4 274.4,413.6" fill="#62a64a"/>
<polygon points="274.4,381.2 278,380 362.3,379.6 302.3,380.8" fill="#86c468"/>
<rect x="278.6" y="385.2" width="22" height="15" fill="#0c0c0c" stroke="#f4f4f4" stroke-width="0.8"/>
<rect x="283.6" y="387.6" width="12.4" height="7.4" fill="#4a4a4a"/><polygon points="283.6,395 296,387.6 296,395" fill="#7a7a7a"/>
<circle cx="279.6" cy="409.4" r="2.7" fill="#2fa84a" stroke="#d8ecd0" stroke-width="0.6"/>
<circle cx="288.8" cy="408.2" r="2.7" fill="#f4dc28"/>
<circle cx="297.8" cy="407.2" r="2.7" fill="#e85a6a"/>
<text class="s" x="334.2" y="401.4" font-size="10.7" font-weight="700" letter-spacing="1.6" fill="#fff" stroke="#fff" stroke-width="0.45" text-anchor="middle">BMS</text>
<line x1="362" y1="395.4" x2="392" y2="395.4" stroke="#7cc062" stroke-width="3.2"/>
<polygon points="374.8,390.8 380.6,395.4 374.8,400" fill="#8cd46a"/>
<linearGradient id="gPipeR2" gradientUnits="userSpaceOnUse" x1="398.4" y1="0" x2="426.8" y2="0"><stop offset="0" stop-color="#f08a30"/><stop offset="0.45" stop-color="#e23422"/><stop offset="0.85" stop-color="#ea5a28"/><stop offset="1" stop-color="#f6b030"/></linearGradient>
<path d="M399.23,398.70 L399.23,387.01 L420.01,374.68 Q425.53,372.73 425.53,378.41 L425.53,394.16 " fill="none" stroke="#8a3018" stroke-width="2.9" stroke-linejoin="round" stroke-linecap="round"/>
<path d="M399.23,398.70 L399.23,387.01 L420.01,374.68 Q425.53,372.73 425.53,378.41 L425.53,394.16 " fill="none" stroke="url(#gPipeR2)" stroke-width="1.9" stroke-linejoin="round" stroke-linecap="round"/>
<path d="M432.51,390.58 L432.51,369.81 L445.50,360.06 " fill="none" stroke="#2050a0" stroke-width="2.9" stroke-linejoin="round" stroke-linecap="round"/>
<path d="M432.51,390.58 L432.51,369.81 L445.50,360.06 " fill="none" stroke="#4a90e4" stroke-width="1.9" stroke-linejoin="round" stroke-linecap="round"/>
<path d="M458.49,386.53 L458.49,402.76 Q458.49,406.82 454.43,409.25 " fill="none" stroke="#2050a0" stroke-width="2.9" stroke-linejoin="round" stroke-linecap="round"/>
<path d="M458.49,386.53 L458.49,402.76 Q458.49,406.82 454.43,409.25 " fill="none" stroke="#5aa0ec" stroke-width="1.9" stroke-linejoin="round" stroke-linecap="round"/>
<path d="M399.23,421.43 L399.23,434.09 L413.03,434.09 L422.77,429.55 L431.70,421.43 " fill="none" stroke="#b08420" stroke-width="2.9" stroke-linejoin="round" stroke-linecap="round"/>
<path d="M399.23,421.43 L399.23,434.09 L413.03,434.09 L422.77,429.55 L431.70,421.43 " fill="none" stroke="#f8d840" stroke-width="1.9" stroke-linejoin="round" stroke-linecap="round"/>
<path d="M439.01,412.50 L448.75,411.69 " fill="none" stroke="#2050a0" stroke-width="2.4" stroke-linejoin="round" stroke-linecap="round"/>
<path d="M439.01,412.50 L448.75,411.69 " fill="none" stroke="#5aa0ec" stroke-width="1.4" stroke-linejoin="round" stroke-linecap="round"/>
<path d="M447.94,362.18 V390.26 Q457.68,395.76 467.42,390.26 V362.18 Z" fill="url(#gCat)" stroke="#a898d4" stroke-width="0.6"/>
<ellipse cx="457.68" cy="362.18" rx="9.74" ry="4" fill="#dceefc" stroke="#a898d4" stroke-width="0.6"/>
<path d="M447.94,369.18 Q457.68,376.18 467.42,369.18" fill="none" stroke="#e4f2fc" stroke-width="0.6" opacity="0.9"/>
<path d="M458.49,358.93 L458.49,364.61 " fill="none" stroke="#2858a8" stroke-width="1.2" stroke-linejoin="round" stroke-linecap="round"/>
<path d="M458.49,384.90 L458.49,392.53 " fill="none" stroke="#3068c0" stroke-width="1.6" stroke-linejoin="round" stroke-linecap="round"/>
<path d="M389.49,396.43 V426.30 Q399.23,431.80 408.97,426.30 V396.43 Z" fill="url(#gAno)" stroke="#c4a0cc" stroke-width="0.6"/>
<ellipse cx="399.23" cy="396.43" rx="9.74" ry="4" fill="#f8f0d8" stroke="#c4a0cc" stroke-width="0.6"/>
<path d="M389.49,402.43 Q399.23,409.43 408.97,402.43" fill="none" stroke="#fcf4d0" stroke-width="0.6" opacity="0.9"/>
<path d="M399.23,394.64 L399.23,399.51 " fill="none" stroke="#b85020" stroke-width="1.5" stroke-linejoin="round" stroke-linecap="round"/>
<path d="M399.23,419.81 L399.23,427.11 " fill="none" stroke="#d89020" stroke-width="1.8" stroke-linejoin="round" stroke-linecap="round"/>
<ellipse cx="414.98" cy="432.47" rx="4.4" ry="3.2" fill="#f8ec9c" stroke="#b89428" stroke-width="0.5"/><circle cx="414.98" cy="432.47" r="1.4" fill="#f4d848" stroke="#b89428" stroke-width="0.4"/>
<rect x="447.99" y="407.66" width="8" height="7.4" rx="2" fill="#5a9ae4" stroke="#2858a8" stroke-width="0.5"/><circle cx="451.99" cy="411.36" r="1.6" fill="#a8ccf4"/>
<polygon points="416.77,394.16 430.89,400.00 430.89,418.99 416.77,412.50" fill="#f6f2f6" stroke="#a090b0" stroke-width="0.45"/>
<polygon points="430.89,400.00 447.94,390.58 447.94,407.14 430.89,418.99" fill="#e4dce8" stroke="#a090b0" stroke-width="0.45"/>
<polygon points="416.77,394.16 433.32,386.04 447.94,390.58 430.89,400.00" fill="#f4eef6" stroke="#a090b0" stroke-width="0.45"/>
<polygon points="417.58,404.38 430.08,409.74 430.08,417.37 417.58,411.69" fill="#f6de4c"/>
<polygon points="417.58,398.70 430.08,404.06 430.08,409.74 417.58,404.38" fill="#f8ec98"/>
<polygon points="431.70,403.57 436.90,400.65 436.90,414.94 431.70,417.86" fill="#f0882c"/>
<polygon points="432.68,408.44 435.27,406.98 435.27,414.94 432.68,416.40" fill="#f8e048"/>
<polygon points="437.87,400.00 446.64,395.13 446.64,407.14 437.87,412.34" fill="#3c80dc"/>
<polygon points="440.14,400.65 444.69,398.05 444.69,406.01 440.14,408.77" fill="#b0d4f6"/>
<path d="M425.53,386.53 L425.53,394.64 " fill="none" stroke="#e8a030" stroke-width="2.0" stroke-linejoin="round" stroke-linecap="round"/>
<path d="M432.51,383.28 L432.51,391.40 " fill="none" stroke="#4a90e4" stroke-width="2.0" stroke-linejoin="round" stroke-linecap="round"/>
<path d="M413.52,389.45 L419.53,401.62 " fill="none" stroke="#202020" stroke-width="0.5" stroke-linejoin="round" stroke-linecap="round"/>
<path d="M436.57,413.64 L447.12,427.60 " fill="none" stroke="#202020" stroke-width="0.6" stroke-linejoin="round" stroke-linecap="round"/>
<path d="M414.66,407.14 L421.15,403.90 " fill="none" stroke="#c06020" stroke-width="0.6" stroke-linejoin="round" stroke-linecap="round"/>
<text class="s" x="399.23" y="412.66" font-size="3.3" font-weight="700" fill="#181818" text-anchor="middle">Anolyte</text>
<text class="s" x="458.00" y="377.92" font-size="3.1" font-weight="700" fill="#181818" text-anchor="middle">Catholyte</text>
<text class="s" x="413.52" y="388.31" font-size="3.0" font-weight="700" fill="#181818" text-anchor="middle">Electrode</text>
<text class="s" x="433.32" y="396.75" font-size="3.0" font-weight="700" fill="#181818" text-anchor="middle">Cell</text>
<path d="M309,447.2 H428.8 Q432.8,447.2 432.8,451.2 V488.4 H305 V451.2 Q305,447.2 309,447.2Z" fill="#b1d2f1" stroke="#86b6e0" stroke-width="0.7"/>
<path d="M305,488.2 H432.8 V506.6 Q432.8,510.6 428.8,510.6 H309 Q305,510.6 305,506.6Z" fill="#ee7878"/>
<path d="M318.20,454.4 H322.40 V449.4 H334.20 V454.4 H338.40 V485.8 H318.20Z" fill="#ee7c84" stroke="#b8784c" stroke-width="0.6"/>
<path d="M319.70,456 H323.80 V451 H332.80 V456 H336.90 V484.4 H319.70Z" fill="url(#gBatt)"/>
<rect x="321.50" y="467.2" width="13.6" height="15.2" fill="none" stroke="#52609a" stroke-width="0.6"/>
<rect x="319.70" y="461.4" width="17.2" height="1.1" fill="#fac4c4" opacity="0.85"/>
<rect x="319.70" y="472.4" width="17.2" height="1.6" fill="#f8b4b6" opacity="0.9"/>
<rect x="319.70" y="477.4" width="17.2" height="0.8" fill="#f8c0c0" opacity="0.7"/>
<path d="M344.60,454.4 H348.80 V449.4 H360.60 V454.4 H364.80 V485.8 H344.60Z" fill="#ee7c84" stroke="#b8784c" stroke-width="0.6"/>
<path d="M346.10,456 H350.20 V451 H359.20 V456 H363.30 V484.4 H346.10Z" fill="url(#gBatt)"/>
<rect x="347.90" y="467.2" width="13.6" height="15.2" fill="none" stroke="#52609a" stroke-width="0.6"/>
<rect x="346.10" y="461.4" width="17.2" height="1.1" fill="#fac4c4" opacity="0.85"/>
<rect x="346.10" y="472.4" width="17.2" height="1.6" fill="#f8b4b6" opacity="0.9"/>
<rect x="346.10" y="477.4" width="17.2" height="0.8" fill="#f8c0c0" opacity="0.7"/>
<path d="M371.40,454.4 H375.60 V449.4 H387.40 V454.4 H391.60 V485.8 H371.40Z" fill="#ee7c84" stroke="#b8784c" stroke-width="0.6"/>
<path d="M372.90,456 H377.00 V451 H386.00 V456 H390.10 V484.4 H372.90Z" fill="url(#gBatt)"/>
<rect x="374.70" y="467.2" width="13.6" height="15.2" fill="none" stroke="#52609a" stroke-width="0.6"/>
<rect x="372.90" y="461.4" width="17.2" height="1.1" fill="#fac4c4" opacity="0.85"/>
<rect x="372.90" y="472.4" width="17.2" height="1.6" fill="#f8b4b6" opacity="0.9"/>
<rect x="372.90" y="477.4" width="17.2" height="0.8" fill="#f8c0c0" opacity="0.7"/>
<path d="M398.00,454.4 H402.20 V449.4 H414.00 V454.4 H418.20 V485.8 H398.00Z" fill="#ee7c84" stroke="#b8784c" stroke-width="0.6"/>
<path d="M399.50,456 H403.60 V451 H412.60 V456 H416.70 V484.4 H399.50Z" fill="url(#gBatt)"/>
<rect x="401.30" y="467.2" width="13.6" height="15.2" fill="none" stroke="#52609a" stroke-width="0.6"/>
<rect x="399.50" y="461.4" width="17.2" height="1.1" fill="#fac4c4" opacity="0.85"/>
<rect x="399.50" y="472.4" width="17.2" height="1.6" fill="#f8b4b6" opacity="0.9"/>
<rect x="399.50" y="477.4" width="17.2" height="0.8" fill="#f8c0c0" opacity="0.7"/>
<text class="s" x="368.8" y="502.8" font-size="7.2" font-weight="900" fill="#3a1616" text-anchor="middle">电能储存</text>
<rect x="486.4" y="238.6" width="74.6" height="8.6" fill="url(#gRedArrow)"/>
<polygon points="560.8,228.6 575.4,242.8 560.8,256.6" fill="#f19da0"/>
<rect x="486.6" y="380.6" width="72.8" height="8.7" fill="url(#gBlueArrow)"/>
<polygon points="559.2,369.6 575,385.2 559.2,401.4" fill="#6fb1e5"/>
<rect x="582.7" y="115.7" width="145.9" height="427.5" fill="#e4eef9" stroke="#199fe0" stroke-width="1.25"/>
<line x1="583.5" y1="220.4" x2="728.3" y2="220.4" stroke="#7fa8b4" stroke-width="0.7" stroke-dasharray="2.2,1.3"/>
<text class="k" font-size="16.8" letter-spacing="3.4" x="616.8" y="139.2">用能终端</text>
<text class="k" font-size="14.6"><tspan x="598.4" y="278.2">供</tspan><tspan x="598.4" y="296.8">热</tspan></text>
<text class="k" font-size="14.6"><tspan x="600.8" y="386.8">供</tspan><tspan x="600.8" y="405.6">冷</tspan></text>
<text class="k" font-size="14.6"><tspan x="598.4" y="510.6">供</tspan><tspan x="598.4" y="529.2">电</tspan></text>
<polygon points="610.23,172.73 627.73,180.45 627.73,196.36 610.23,188.64" fill="#ead2bc"/>
<polygon points="610.23,186.36 627.73,194.09 627.73,196.36 610.23,188.64" fill="#2c3e60"/>
<polygon points="607.95,170.91 623.86,157.73 634.55,156.14 653.41,161.36 627.73,173.64 627.73,180.45" fill="#757575"/>
<polygon points="623.86,157.73 634.55,156.14 653.41,161.36 643.18,164.55" fill="#5e5e5e"/>
<polygon points="612.50,179.18 615.45,180.55 615.45,184.41 612.50,183.05" fill="#34466a"/>
<polygon points="617.05,181.18 620.00,182.55 620.00,186.41 617.05,185.05" fill="#34466a"/>
<polygon points="621.59,183.18 624.55,184.55 624.55,188.41 621.59,187.05" fill="#34466a"/>
<polygon points="627.27,173.64 646.82,182.73 646.82,210.00 627.27,200.45" fill="#dbe3f2"/>
<polygon points="646.82,182.73 691.36,160.00 691.36,185.91 646.82,210.00" fill="#a9b5d1"/>
<polygon points="627.27,173.64 672.27,153.64 691.36,160.00 646.82,182.73" fill="#8c9cc2" stroke="#d3dbee" stroke-width="1.5" stroke-linejoin="round"/>
<rect x="659.77" y="155.14" width="5" height="6.4" rx="2" fill="#e9eef6" stroke="#bcc6dc" stroke-width="0.4"/>
<ellipse cx="662.27" cy="156.14" rx="2.5" ry="1.3" fill="#f6f8fc" stroke="#c4cce0" stroke-width="0.3"/>
<rect x="665.00" y="152.86" width="5" height="6.4" rx="2" fill="#e9eef6" stroke="#bcc6dc" stroke-width="0.4"/>
<ellipse cx="667.50" cy="153.86" rx="2.5" ry="1.3" fill="#f6f8fc" stroke="#c4cce0" stroke-width="0.3"/>
<rect x="670.23" y="150.59" width="5" height="6.4" rx="2" fill="#e9eef6" stroke="#bcc6dc" stroke-width="0.4"/>
<ellipse cx="672.73" cy="151.59" rx="2.5" ry="1.3" fill="#f6f8fc" stroke="#c4cce0" stroke-width="0.3"/>
<polygon points="629.55,185.15 632.73,186.62 632.73,191.17 629.55,189.69" fill="#2c3e66"/>
<polygon points="634.77,187.58 637.95,189.06 637.95,193.60 634.77,192.12" fill="#2c3e66"/>
<polygon points="640.00,190.01 643.18,191.49 643.18,196.03 640.00,194.55" fill="#2c3e66"/>
<polygon points="650.68,182.73 653.64,181.25 653.64,185.45 650.68,186.93" fill="#2c3e66"/>
<polygon points="650.68,188.64 653.64,187.16 653.64,191.36 650.68,192.84" fill="#2c3e66"/>
<polygon points="650.68,194.55 653.64,193.07 653.64,197.27 650.68,198.75" fill="#2c3e66"/>
<polygon points="650.68,200.45 653.64,198.98 653.64,203.18 650.68,204.66" fill="#2c3e66"/>
<polygon points="673.18,172.27 675.68,171.02 675.68,175.00 673.18,176.25" fill="#2c3e66"/>
<polygon points="677.27,170.23 679.77,168.98 679.77,172.95 677.27,174.20" fill="#2c3e66"/>
<polygon points="681.36,168.18 683.86,166.93 683.86,170.91 681.36,172.16" fill="#2c3e66"/>
<polygon points="685.91,165.91 688.41,164.66 688.41,168.64 685.91,169.89" fill="#2c3e66"/>
<polygon points="681.36,177.73 683.86,176.48 683.86,180.45 681.36,181.70" fill="#2c3e66"/>
<polygon points="685.91,175.45 688.41,174.20 688.41,178.18 685.91,179.43" fill="#2c3e66"/>
<polygon points="667.05,188.41 680.00,182.27 680.00,194.09 667.05,199.09" fill="#3a3230"/>
<polygon points="659.09,187.73 681.82,177.27 686.82,178.64 665.00,190.45" fill="#e4e8f0" stroke="#98a4c0" stroke-width="0.4"/>
<rect x="636.9" y="301.2" width="14" height="8.6" rx="1" fill="url(#gHeaterShellV)"/>
<rect x="689.5" y="289" width="13.1" height="8.2" rx="1" fill="url(#gHeaterShellV)"/>
<path d="M649.5,246.5 Q649.5,241.8 670.2,241.8 Q691,241.8 691,246.5 V311 Q691,315 670.2,315 Q649.5,315 649.5,311Z" fill="url(#gHeaterShell)"/>
<rect x="652.7" y="253.6" width="34.8" height="46.8" fill="url(#gTan)"/>
<rect x="649.5" y="301.2" width="2.3" height="8.6" fill="#9c9ea0" opacity="0.85"/><rect x="688" y="289" width="2.4" height="8.2" fill="#9c9ea0" opacity="0.85"/>
<rect x="652.7" y="300.2" width="34.8" height="11.4" fill="url(#gGold)"/>
<path d="M655.8,300.6 V257.9 Q655.8,256.4 657.3,256.4 H661.1 Q662.6,256.4 662.6,257.9 V296.7 Q662.6,298.2 664.1,298.2 H665.9 Q667.4,298.2 667.4,296.7 V257.9 Q667.4,256.4 668.9,256.4 H672.0 Q673.5,256.4 673.5,257.9 V296.7 Q673.5,298.2 675.0,298.2 H676.9 Q678.4,298.2 678.4,296.7 V257.9 Q678.4,256.4 679.9,256.4 H682.7 Q684.2,256.4 684.2,257.9 V300.6" fill="none" stroke="#e0261a" stroke-width="1.3"/>
<path d="M695,390.8 Q698,391.2 698,395.4 Q698,399.6 695,400.2Z" fill="#5a9adc" stroke="#2c4866" stroke-width="0.5"/>
<rect x="642.2" y="354" width="52.8" height="84" fill="#79b5e9" stroke="#3a5a7a" stroke-width="0.7"/>
<line x1="693.7" y1="354.4" x2="693.7" y2="437.6" stroke="#5590cc" stroke-width="1.4"/>
<g fill="#74aee4" stroke="#1e3248" stroke-width="0.75" stroke-linejoin="miter">
<path transform="translate(667.2,396.5) scale(1.05,1) rotate(0)" d="M-1.4,-2.42 V-11.8 L-6.8,-15.6 L-5.54,-17.4 L-1.4,-14.5 V-20.3 H1.4 V-14.5 L5.54,-17.4 L6.8,-15.6 L1.4,-11.8 V-2.42"/>
<path transform="translate(667.2,396.5) scale(1.05,1) rotate(60)" d="M-1.4,-2.42 V-11.8 L-6.8,-15.6 L-5.54,-17.4 L-1.4,-14.5 V-20.3 H1.4 V-14.5 L5.54,-17.4 L6.8,-15.6 L1.4,-11.8 V-2.42"/>
<path transform="translate(667.2,396.5) scale(1.05,1) rotate(120)" d="M-1.4,-2.42 V-11.8 L-6.8,-15.6 L-5.54,-17.4 L-1.4,-14.5 V-20.3 H1.4 V-14.5 L5.54,-17.4 L6.8,-15.6 L1.4,-11.8 V-2.42"/>
<path transform="translate(667.2,396.5) scale(1.05,1) rotate(180)" d="M-1.4,-2.42 V-11.8 L-6.8,-15.6 L-5.54,-17.4 L-1.4,-14.5 V-20.3 H1.4 V-14.5 L5.54,-17.4 L6.8,-15.6 L1.4,-11.8 V-2.42"/>
<path transform="translate(667.2,396.5) scale(1.05,1) rotate(240)" d="M-1.4,-2.42 V-11.8 L-6.8,-15.6 L-5.54,-17.4 L-1.4,-14.5 V-20.3 H1.4 V-14.5 L5.54,-17.4 L6.8,-15.6 L1.4,-11.8 V-2.42"/>
<path transform="translate(667.2,396.5) scale(1.05,1) rotate(300)" d="M-1.4,-2.42 V-11.8 L-6.8,-15.6 L-5.54,-17.4 L-1.4,-14.5 V-20.3 H1.4 V-14.5 L5.54,-17.4 L6.8,-15.6 L1.4,-11.8 V-2.42"/>
</g>
<rect x="623.8" y="499" width="33.6" height="22.4" rx="0.8" fill="#26282c"/>
<rect x="625" y="500.2" width="31.2" height="20.2" fill="url(#gScreen)"/>
<polygon points="633,500.2 640,500.2 629,520.4 625,520.4 625,514" fill="#a8ccf2" opacity="0.4"/>
<rect x="623.8" y="521.2" width="33.6" height="5.8" fill="#dcdee2"/>
<polygon points="637.2,527 644.2,527 645.4,531.2 636,531.2" fill="#c8cace"/>
<rect x="635.2" y="530.8" width="11" height="1.2" fill="#d4d6da"/>
<path d="M686.36,494.55 V484.32 Q686.36,480.45 689.77,480.45 H695.00" fill="none" stroke="#cc2a2e" stroke-width="2"/>
<rect x="693.64" y="479.09" width="7.4" height="2.6" rx="0.8" fill="#222"/>
<polygon points="681.36,494.55 707.95,484.32 712.27,485.45 712.27,492.73 707.95,508.18 681.36,508.18" fill="#272c30"/>
<circle cx="709.55" cy="487.73" r="2.6" fill="#1a1a1a" stroke="#555" stroke-width="0.5"/>
<rect x="705.68" y="495.68" width="8" height="11.4" fill="#f2f2f2" stroke="#999" stroke-width="0.4"/>
<line x1="705.68" y1="497.88" x2="713.68" y2="497.88" stroke="#aaa" stroke-width="0.35"/>
<line x1="705.68" y1="500.08" x2="713.68" y2="500.08" stroke="#aaa" stroke-width="0.35"/>
<line x1="705.68" y1="502.28" x2="713.68" y2="502.28" stroke="#aaa" stroke-width="0.35"/>
<line x1="705.68" y1="504.48" x2="713.68" y2="504.48" stroke="#aaa" stroke-width="0.35"/>
<rect x="670.00" y="494.55" width="9.6" height="11.6" rx="0.8" fill="#1e1e1e"/>
<rect x="671.36" y="492.73" width="3" height="2" fill="#cc2a2e"/>
<rect x="672.73" y="505.91" width="3" height="5" fill="#444"/>
<ellipse cx="685.91" cy="503.18" rx="2.2" ry="1.6" fill="none" stroke="#ddd" stroke-width="0.4"/>
<rect x="687.6" y="506.6" width="18" height="6" fill="#b8262c"/>
<rect x="668.6" y="511.6" width="47.4" height="16" rx="7" fill="url(#gRedCyl)"/>
<line x1="676.6" y1="512" x2="676.6" y2="527.2" stroke="#901c1e" stroke-width="0.5"/><line x1="708" y1="512" x2="708" y2="527.2" stroke="#901c1e" stroke-width="0.5"/>
<polygon points="675.6,527 679.4,527 679.8,531.4 675.2,531.4" fill="#b82226"/><rect x="674.6" y="531" width="5.8" height="1.8" rx="0.6" fill="#222"/>
<polygon points="705,527 708.8,527 709.2,531.4 704.6,531.4" fill="#b82226"/><rect x="704" y="531" width="5.8" height="1.8" rx="0.6" fill="#222"/>
<text class="s" x="692.4" y="522.6" font-size="8.3" font-weight="700" fill="#2a0c0c" stroke="#2a0c0c" stroke-width="0.35" text-anchor="middle" letter-spacing="0.4">Air</text>
</svg></body></html>
